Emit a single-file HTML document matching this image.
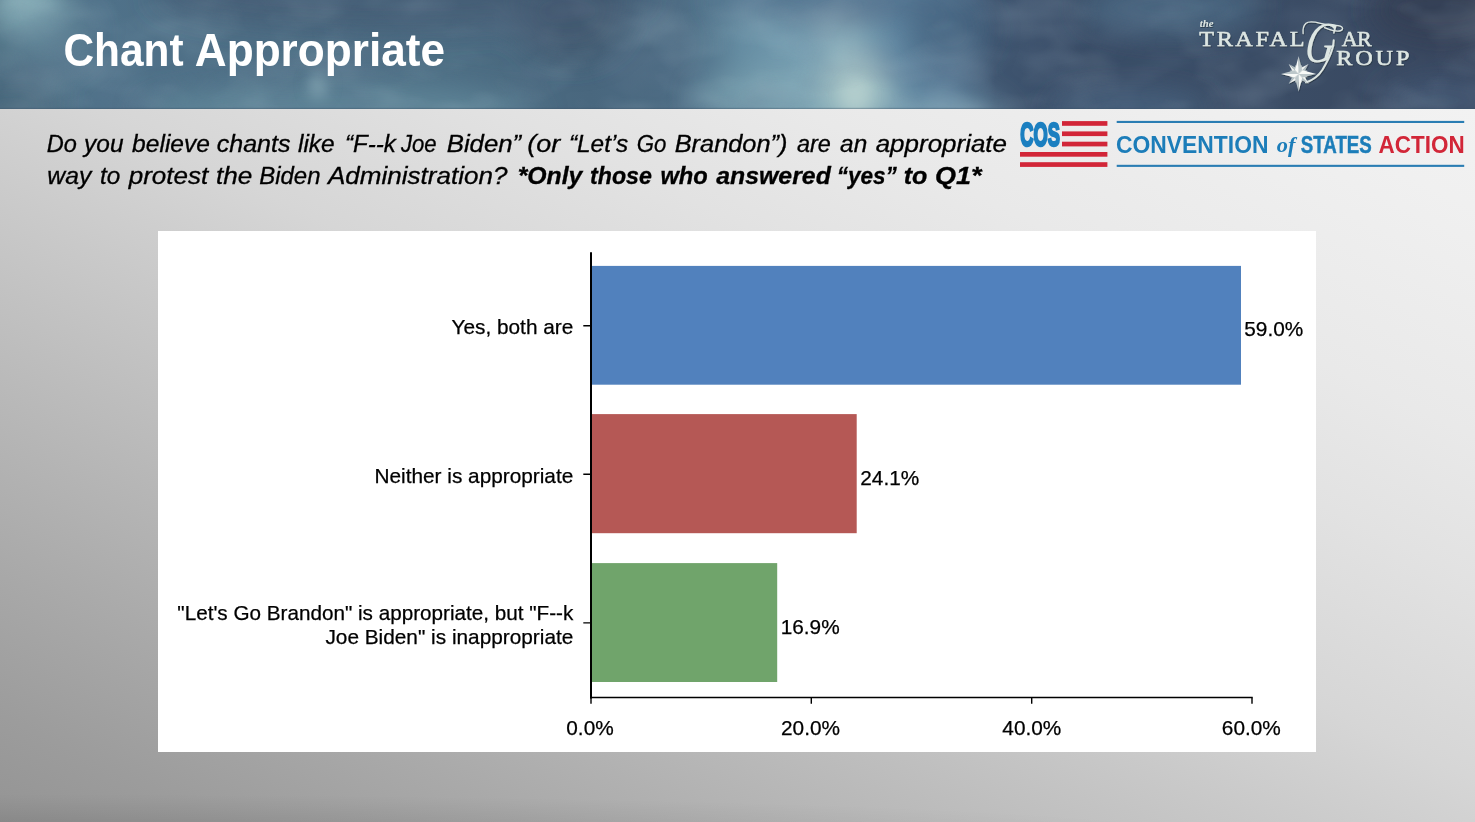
<!DOCTYPE html>
<html lang="en">
<head>
<meta charset="utf-8">
<title>Chant Appropriate</title>
<style>
  html, body { margin: 0; padding: 0; }
  body {
    width: 1475px; height: 822px; overflow: hidden; position: relative;
    font-family: "Liberation Sans", sans-serif;
    background: #cfcfcf;
  }
  #slide {
    position: absolute; left: 0; top: 0; width: 1475px; height: 822px; overflow: hidden;
    background: #cfcfcf;
  }
  #bg {
    position: absolute; left: 0; top: 108px; width: 1475px; height: 714px;
    background:
      radial-gradient(ellipse 1150px 42px at 60px 728px, rgba(0,0,0,0.10) 0%, rgba(0,0,0,0.07) 40%, rgba(0,0,0,0.03) 72%, rgba(0,0,0,0) 100%),
      linear-gradient(to bottom left, #f2f2f2 0%, #f0f0f0 7%, #e9e9e9 23%, #e2e2e2 33%, #d6d6d6 47%, #c9c9c9 57%, #bbbbbb 68%, #a9a9a9 82%, #9c9c9c 92.5%, #949494 100%);
  }
  #header {
    position: absolute; left: 0; top: 0; width: 1475px; height: 109px; overflow: hidden;
    background: #4a6880;
  }
  #title { position: absolute; left: 50px; top: 10px; margin: 0; width: 460px; height: 80px; font-size: 0; line-height: 0; }
  #title svg { display: block; }
  #question { position: absolute; left: 40px; top: 118px; }
  #chart { position: absolute; left: 158px; top: 231px; width: 1158px; height: 521px; background: #fff; }
  #chart svg { display: block; }
  #tg { position: absolute; left: 1185px; top: 5px; }
  #cos { position: absolute; left: 1010px; top: 110px; }
</style>
</head>
<body>
<div id="slide">
  <div id="bg"></div>
  <div id="header">
    <svg width="1475" height="109" viewBox="0 0 1475 109" preserveAspectRatio="none">
      <defs>
        <linearGradient id="sky" x1="0" y1="0" x2="1475" y2="0" gradientUnits="userSpaceOnUse">
          <stop offset="0" stop-color="#4f7185"/>
          <stop offset="0.07" stop-color="#50728a"/>
          <stop offset="0.16" stop-color="#4e6f86"/>
          <stop offset="0.30" stop-color="#4d6e84"/>
          <stop offset="0.40" stop-color="#49677e"/>
          <stop offset="0.46" stop-color="#4d6c84"/>
          <stop offset="0.50" stop-color="#5f859b"/>
          <stop offset="0.54" stop-color="#7199ad"/>
          <stop offset="0.58" stop-color="#779fb2"/>
          <stop offset="0.61" stop-color="#5f85a0"/>
          <stop offset="0.645" stop-color="#4f6f8d"/>
          <stop offset="0.675" stop-color="#3f5570"/>
          <stop offset="0.74" stop-color="#3a4d67"/>
          <stop offset="0.86" stop-color="#3b4d66"/>
          <stop offset="1" stop-color="#38465e"/>
        </linearGradient>
        <filter id="blur" x="-10%" y="-50%" width="120%" height="200%"><feGaussianBlur stdDeviation="14"/></filter>
        <filter id="cloudL" x="0" y="0" width="100%" height="100%">
          <feTurbulence type="fractalNoise" baseFrequency="0.011 0.02" numOctaves="3" seed="7"/>
          <feColorMatrix type="matrix" values="0 0 0 0 0.72  0 0 0 0 0.86  0 0 0 0 0.90  1.6 0 0 0 -0.72"/>
        </filter>
        <filter id="cloudD" x="0" y="0" width="100%" height="100%">
          <feTurbulence type="fractalNoise" baseFrequency="0.01 0.018" numOctaves="3" seed="23"/>
          <feColorMatrix type="matrix" values="0 0 0 0 0.16  0 0 0 0 0.22  0 0 0 0 0.32  1.6 0 0 0 -0.74"/>
        </filter>
        <filter id="blur2" x="-10%" y="-50%" width="120%" height="200%"><feGaussianBlur stdDeviation="7"/></filter>
      </defs>
      <rect x="0" y="0" width="1475" height="109" fill="url(#sky)"/>
      <g filter="url(#blur)">
        <ellipse cx="28" cy="4" rx="36" ry="34" fill="#86aeb7" opacity="0.95"/>
        <ellipse cx="55" cy="35" rx="40" ry="35" fill="#668c9d" opacity="0.5"/>
        <ellipse cx="570" cy="20" rx="55" ry="40" fill="#3f566d" opacity="0.85"/>
        <ellipse cx="340" cy="114" rx="200" ry="30" fill="#648c9e" opacity="0.7"/>
        <ellipse cx="400" cy="-4" rx="250" ry="36" fill="#3f576e" opacity="0.6"/>
        <ellipse cx="770" cy="45" rx="45" ry="30" fill="#769fb4" opacity="0.3"/>
        <ellipse cx="800" cy="98" rx="105" ry="28" fill="#86abb8" opacity="0.6"/>
        <ellipse cx="10" cy="105" rx="50" ry="30" fill="#456378" opacity="0.7"/>
        <ellipse cx="830" cy="2" rx="120" ry="16" fill="#4c6b88" opacity="0.9"/>
        <ellipse cx="856" cy="88" rx="32" ry="38" fill="#aecaca" opacity="0.85"/>
        <ellipse cx="838" cy="45" rx="18" ry="25" fill="#9fc0c8" opacity="0.6"/>
        <ellipse cx="940" cy="112" rx="65" ry="16" fill="#7ea5b6" opacity="0.8"/>
        <ellipse cx="950" cy="30" rx="40" ry="40" fill="#46627f" opacity="0.6"/>
        <ellipse cx="1170" cy="8" rx="90" ry="28" fill="#4b6985" opacity="0.8"/>
        <ellipse cx="1130" cy="108" rx="80" ry="18" fill="#4c6884" opacity="0.7"/>
        <ellipse cx="1440" cy="10" rx="70" ry="35" fill="#353f54" opacity="0.8"/>
        <ellipse cx="1440" cy="100" rx="60" ry="25" fill="#445b78" opacity="0.6"/>
      </g>
      <g filter="url(#blur2)">
        <ellipse cx="318" cy="85" rx="10" ry="14" fill="#9dbcc6" opacity="0.5"/>
        <ellipse cx="855" cy="95" rx="14" ry="16" fill="#c0d8d4" opacity="0.5"/>
      </g>
      <rect x="0" y="0" width="1475" height="109" filter="url(#cloudL)" opacity="0.2"/>
      <rect x="0" y="0" width="1475" height="109" filter="url(#cloudD)" opacity="0.38"/>
      <rect x="0" y="107.8" width="1475" height="1.2" fill="#3a4f63" opacity="0.35"/>
    </svg>
  </div>
  <h1 id="title"><svg width="460" height="80" viewBox="50 10 460 80" font-family="Liberation Sans, sans-serif" font-size="46" font-weight="bold" fill="#fff"><text y="66.4"><tspan x="63.4" textLength="120.2" lengthAdjust="spacingAndGlyphs">Chant</tspan> <tspan x="194.8" textLength="250.2" lengthAdjust="spacingAndGlyphs">Appropriate</tspan></text></svg></h1>
  <svg id="question" width="1000" height="90" viewBox="40 118 1000 90" font-family="Liberation Sans, sans-serif" font-size="23" font-style="italic" fill="#000" stroke="#000" stroke-width="0.3">
    <text y="151.5"><tspan x="46.8" textLength="30.1" lengthAdjust="spacingAndGlyphs">Do</tspan> <tspan x="84.1" textLength="39.4" lengthAdjust="spacingAndGlyphs">you</tspan> <tspan x="132.1" textLength="77.9" lengthAdjust="spacingAndGlyphs">believe</tspan> <tspan x="216.7" textLength="73.8" lengthAdjust="spacingAndGlyphs">chants</tspan> <tspan x="298.0" textLength="36.7" lengthAdjust="spacingAndGlyphs">like</tspan> <tspan x="345.0" textLength="50.8" lengthAdjust="spacingAndGlyphs">“F--k</tspan> <tspan x="400.9" textLength="35.6" lengthAdjust="spacingAndGlyphs">Joe</tspan> <tspan x="446.7" textLength="74.5" lengthAdjust="spacingAndGlyphs">Biden”</tspan> <tspan x="527.3" textLength="33.0" lengthAdjust="spacingAndGlyphs">(or</tspan> <tspan x="568.9" textLength="59.2" lengthAdjust="spacingAndGlyphs">“Let’s</tspan> <tspan x="636.7" textLength="29.6" lengthAdjust="spacingAndGlyphs">Go</tspan> <tspan x="674.7" textLength="112.8" lengthAdjust="spacingAndGlyphs">Brandon”)</tspan> <tspan x="796.9" textLength="33.9" lengthAdjust="spacingAndGlyphs">are</tspan> <tspan x="840.1" textLength="27.1" lengthAdjust="spacingAndGlyphs">an</tspan> <tspan x="875.7" textLength="131.3" lengthAdjust="spacingAndGlyphs">appropriate</tspan></text>
    <text y="183.5"><tspan x="47.3" textLength="44.0" lengthAdjust="spacingAndGlyphs">way</tspan> <tspan x="99.9" textLength="20.3" lengthAdjust="spacingAndGlyphs">to</tspan> <tspan x="128.7" textLength="79.6" lengthAdjust="spacingAndGlyphs">protest</tspan> <tspan x="216.0" textLength="36.4" lengthAdjust="spacingAndGlyphs">the</tspan> <tspan x="259.2" textLength="61.3" lengthAdjust="spacingAndGlyphs">Biden</tspan> <tspan x="328.0" textLength="179.5" lengthAdjust="spacingAndGlyphs">Administration?</tspan></text>
    <text y="183.5" font-weight="bold"><tspan x="517.7" textLength="64.7" lengthAdjust="spacingAndGlyphs">*Only</tspan> <tspan x="590.0" textLength="61.9" lengthAdjust="spacingAndGlyphs">those</tspan> <tspan x="660.4" textLength="47.4" lengthAdjust="spacingAndGlyphs">who</tspan> <tspan x="716.3" textLength="114.5" lengthAdjust="spacingAndGlyphs">answered</tspan> <tspan x="836.7" textLength="60.2" lengthAdjust="spacingAndGlyphs">“yes”</tspan> <tspan x="903.7" textLength="23.7" lengthAdjust="spacingAndGlyphs">to</tspan> <tspan x="935.0" textLength="46.5" lengthAdjust="spacingAndGlyphs">Q1*</tspan></text>
  </svg>

  <svg id="cos" width="465" height="66" viewBox="1010 110 465 66" font-family="Liberation Sans, sans-serif">
    <g fill="#d22638">
      <rect x="1062" y="121.1" width="45.4" height="4.7"/>
      <rect x="1062" y="131.4" width="45.4" height="4.7"/>
      <rect x="1062" y="141.7" width="45.4" height="4.7"/>
      <rect x="1020" y="152" width="87.4" height="4.7"/>
      <rect x="1020" y="162.2" width="87.4" height="4.7"/>
    </g>
    <text x="1020.3" y="145.7" font-size="34" font-weight="bold" fill="#1b7fc0" stroke="#1b7fc0" stroke-width="2.6" stroke-linejoin="miter" textLength="39.6" lengthAdjust="spacingAndGlyphs">COS</text>
    <rect x="1116.7" y="120.9" width="347.5" height="2.1" fill="#2a7db3"/>
    <rect x="1116.7" y="164.8" width="347.5" height="2.1" fill="#2a7db3"/>
    <text x="1116" y="152.5" font-size="23.7" font-weight="bold" fill="#1c7db9" textLength="152.5" lengthAdjust="spacingAndGlyphs">CONVENTION</text>
    <text x="1276.8" y="152.3" font-size="21.5" font-style="italic" font-weight="bold" font-family="Liberation Serif, serif" fill="#1c7db9" textLength="18.6" lengthAdjust="spacingAndGlyphs">of</text>
    <text x="1300.8" y="152.5" font-size="23.7" font-weight="bold" fill="#1c7db9" stroke="#1c7db9" stroke-width="0.5" textLength="71" lengthAdjust="spacingAndGlyphs">STATES</text>
    <text x="1378.6" y="152.5" font-size="23.7" font-weight="bold" fill="#d22638" textLength="86" lengthAdjust="spacingAndGlyphs">ACTION</text>
  </svg>

  <svg id="tg" width="240" height="95" viewBox="1185 5 240 95" font-family="Liberation Serif, serif" fill="#dde6e3">
    <defs>
      <filter id="tgsh" x="-5%" y="-5%" width="110%" height="115%"><feDropShadow dx="0.6" dy="1" stdDeviation="0.7" flood-color="#1c2636" flood-opacity="0.7"/></filter>
    </defs>
    <g filter="url(#tgsh)">
      <text x="1199.8" y="27" font-size="10.5" font-style="italic" font-weight="bold" textLength="13.6" lengthAdjust="spacingAndGlyphs">the</text>
      <g stroke="#dde6e3" stroke-width="0.5">
        <text font-size="22" transform="translate(1199.3 45.9) scale(1.1 1)" textLength="95.6" lengthAdjust="spacing">TRAFAL</text>
        <text font-size="22" transform="translate(1341.8 45.9) scale(1.0 1)" textLength="29.8" lengthAdjust="spacing">AR</text>
        <text font-size="22" transform="translate(1336.3 65.4) scale(1.1 1)" textLength="66.4" lengthAdjust="spacing">ROUP</text>
      </g>
      <text x="0" y="0" font-size="58" font-style="italic" transform="translate(1303.2 62) skewX(-9) scale(0.7 1)">G</text>
      <g fill="none" stroke="#dde6e3" stroke-linecap="round" stroke-linejoin="round">
        <path d="M1303.1 33.5C1302.6 29 1303.5 25.5 1306 23.2C1309 20.6 1314 21.6 1320.6 23.3C1327 24.9 1333 25 1338.1 25.7C1341.5 26.2 1343.3 27.6 1342.3 29.3C1341.3 31 1337.5 31.4 1333.3 30.6C1330 30 1327 28.8 1324.5 27.7" stroke-width="1.3"/>
        <path d="M1333.7 40.3C1333.6 46 1331.5 52.5 1328.4 58.8C1326.5 62.6 1324.6 66.2 1322.6 69.5C1320.6 72.6 1318.4 75.3 1315.7 77.3C1313.5 79 1311 80.4 1308.9 81.2L1306 82.3" stroke-width="2"/>
      </g>
      <g id="star" transform="translate(1298.6 73.9)">
        <circle r="8.2" fill="#c9d3d4" opacity="0.55"/>
        <g id="ter" fill="#c3cdcf">
          <path d="M0 0L-2 -4.8L3.6 -8.8Z"/>
          <path d="M0 0L2 -4.8L-3.6 -8.8Z"/>
        </g>
        <use href="#ter" transform="rotate(90)"/><use href="#ter" transform="rotate(180)"/><use href="#ter" transform="rotate(270)"/>
        <g id="dia">
          <path d="M0 0L-3.2 -3.6L0 -14Z" fill="#f2f5f3" transform="rotate(45)"/>
          <path d="M0 0L3.2 -3.6L0 -14Z" fill="#b4c0c4" transform="rotate(45)"/>
        </g>
        <use href="#dia" transform="rotate(90)"/><use href="#dia" transform="rotate(180)"/><use href="#dia" transform="rotate(270)"/>
        <g id="main">
          <path d="M0 0L-3.6 -4L0 -17.6Z" fill="#f8faf8"/>
          <path d="M0 0L3.6 -4L0 -17.6Z" fill="#bcc7ca"/>
        </g>
        <use href="#main" transform="rotate(90)"/><use href="#main" transform="rotate(180)"/><use href="#main" transform="rotate(270)"/>
      </g>
    </g>
  </svg>

  <div id="chart">
    <svg width="1158" height="521" viewBox="158 231 1158 521" font-family="Liberation Sans, sans-serif" font-size="20.8" fill="#000">
      <rect x="591" y="265.9" width="650" height="118.8" fill="#5181bd"/>
      <rect x="591" y="414.1" width="265.7" height="119.1" fill="#b55855"/>
      <rect x="591" y="563.1" width="186.2" height="118.9" fill="#70a46b"/>
      <g stroke="#000" fill="none">
        <path d="M591 252.3V698.4" stroke-width="2"/>
        <path d="M590 697.5H1252.7" stroke-width="1.7"/>
        <path d="M591 697.5v6.3M811.3 697.5v6.3M1031.7 697.5v6.3M1252 697.5v6.3" stroke-width="1.4"/>
        <path d="M583.3 325.8h7.5M583.3 474.3h7.5M583.3 622.9h7.5" stroke-width="1.4"/>
      </g>
      <g stroke="#000" stroke-width="0.25">
      <g text-anchor="end">
        <text x="573.3" y="334.2">Yes, both are</text>
        <text x="573.3" y="482.8">Neither is appropriate</text>
        <text x="573.3" y="620" textLength="396" lengthAdjust="spacingAndGlyphs">"Let's Go Brandon" is appropriate, but "F--k</text>
        <text x="573.3" y="644.3">Joe Biden" is inappropriate</text>
      </g>
      <text x="1244.3" y="336">59.0%</text>
      <text x="860.3" y="484.5">24.1%</text>
      <text x="780.7" y="634">16.9%</text>
      <g text-anchor="middle">
        <text x="590" y="735">0.0%</text>
        <text x="810.5" y="735">20.0%</text>
        <text x="1031.8" y="735">40.0%</text>
        <text x="1251.3" y="735">60.0%</text>
      </g>
      </g>
    </svg>
  </div>
</div>
</body>
</html>
